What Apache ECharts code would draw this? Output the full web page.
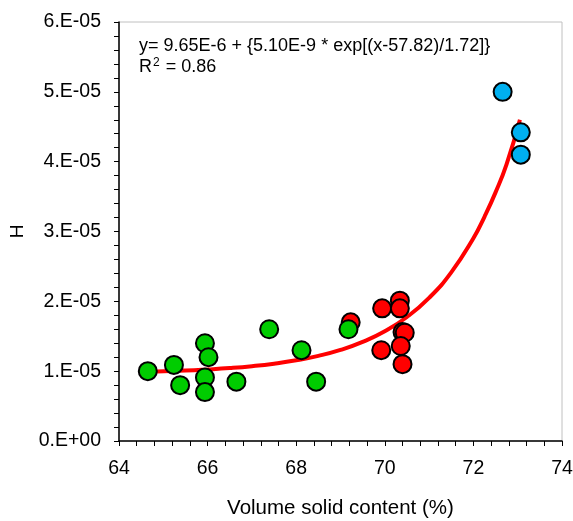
<!DOCTYPE html>
<html><head><meta charset="utf-8">
<script src="https://cdn.jsdelivr.net/npm/echarts@6/dist/echarts.min.js"></script>
<style>html,body{margin:0;padding:0;background:#fff}#c{width:573px;height:521px}</style>
</head><body><div id="c"></div>
<script>
// Data
var greenX = [64.65, 65.24, 65.38, 65.94, 66.02, 65.94, 65.94, 66.65, 67.39, 68.12, 68.45, 69.18];
var greenY = [1.00e-5, 1.09e-5, 0.80e-5, 1.40e-5, 1.20e-5, 0.91e-5, 0.70e-5, 0.85e-5, 1.60e-5, 1.30e-5, 0.85e-5, 1.60e-5];
var redX = [69.23, 69.94, 70.34, 70.34, 70.40, 70.45, 70.36, 69.92, 70.40];
var redY = [1.70e-5, 1.90e-5, 2.01e-5, 1.90e-5, 1.56e-5, 1.55e-5, 1.36e-5, 1.30e-5, 1.10e-5];
var blueX = [72.66, 73.07, 73.07];
var blueY = [5.00e-5, 4.42e-5, 4.10e-5];
var fitX = [64.85, 65.5, 66, 66.5, 67, 67.5, 68, 68.5, 69, 69.5, 70, 70.5, 71, 71.5, 72, 72.25, 72.5, 72.75, 73.05];
var fitY = [0.995e-5, 1.008e-5, 1.024e-5, 1.044e-5, 1.071e-5, 1.107e-5, 1.155e-5, 1.219e-5, 1.304e-5, 1.419e-5, 1.572e-5, 1.776e-5, 2.05e-5, 2.415e-5, 2.904e-5, 3.211e-5, 3.56e-5, 3.966e-5, 4.6e-5];
var yTickLabels = ['0.E+00', '1.E-05', '2.E-05', '3.E-05', '4.E-05', '5.E-05', '6.E-05'];
var xTickLabels = ['64', '66', '68', '70', '72', '74'];
var eqText = 'y= 9.65E-6 + {5.10E-9 * exp[(x-57.82)/1.72]}';
var r2Text = '0.86';

function zip(a, b) { return a.map(function (v, i) { return [v, b[i]]; }); }
var font = 'Liberation Sans, Arial, sans-serif';
var chart = echarts.init(document.getElementById('c'), null, {renderer: 'canvas'});
function scat(x, y, color) {
  return {
    type: 'scatter', data: zip(x, y), symbolSize: 18, z: 3,
    itemStyle: {color: color, borderColor: '#000', borderWidth: 2, opacity: 1}
  };
}
chart.setOption({
  animation: false,
  grid: {left: 119, right: 11, top: 22, bottom: 80, show: true, borderColor: '#c0c0c0', borderWidth: 1,
    containLabel: false, outerBoundsMode: 'none'},
  xAxis: {
    type: 'value', min: 64, max: 74, interval: 2,
    name: 'Volume solid content (%)', nameLocation: 'middle', nameGap: 57,
    nameTextStyle: {fontFamily: font, fontSize: 20.5, color: '#000'},
    axisLine: {lineStyle: {color: '#000', width: 1.5}},
    axisTick: {length: 5, lineStyle: {color: '#000'}},
    minorTick: {show: true, splitNumber: 5, length: 5, lineStyle: {color: '#000'}},
    splitLine: {show: false},
    axisLabel: {fontFamily: font, fontSize: 19.5, color: '#000', margin: 18,
      formatter: function (v) { return xTickLabels[Math.round((v - 64) / 2)]; }}
  },
  yAxis: {
    type: 'value', min: 0, max: 6e-5, interval: 1e-5,
    name: 'H', nameLocation: 'middle', nameGap: 92, nameRotate: 90,
    nameTextStyle: {fontFamily: font, fontSize: 19, color: '#000'},
    axisLine: {show: true, lineStyle: {color: '#000', width: 1.5}},
    axisTick: {show: true, length: 5, lineStyle: {color: '#000'}},
    minorTick: {show: true, splitNumber: 5, length: 5, lineStyle: {color: '#000'}},
    splitLine: {show: false},
    axisLabel: {fontFamily: font, fontSize: 19.5, color: '#000', margin: 18,
      formatter: function (v) { return yTickLabels[Math.round(v / 1e-5)]; }}
  },
  series: [
    {type: 'line', data: zip(fitX, fitY), smooth: true, showSymbol: false, z: 2,
      lineStyle: {color: '#ff0000', width: 4}},
    scat(redX, redY, '#ff0000'),
    scat(greenX, greenY, '#00cc00'),
    scat(blueX, blueY, '#00b0f0')
  ],
  graphic: [
    {type: 'text', left: 139, top: 37, style: {text: eqText, font: '18px ' + font, fill: '#000'}},
    {type: 'text', left: 139, top: 57, style: {
      text: '{a|R}{s|2}{a| = ' + r2Text + '}',
      rich: {a: {fontSize: 18, fontFamily: font, color: '#000'},
             s: {fontSize: 12, fontFamily: font, color: '#000', verticalAlign: 'top', padding: [0, 1, 8, 1]}}
    }}
  ]
});
</script></body></html>
